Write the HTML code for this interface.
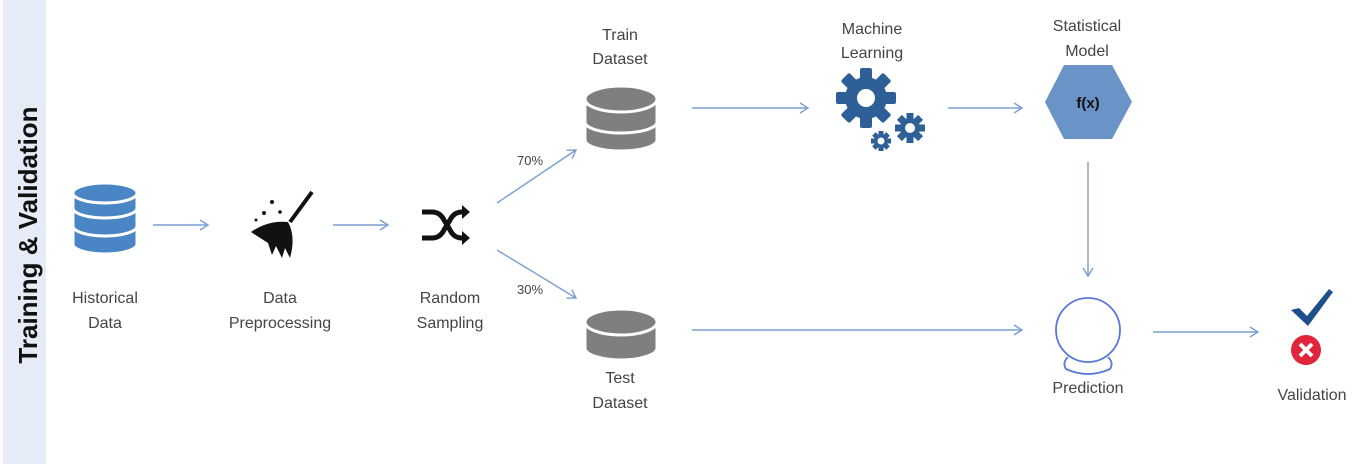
<!DOCTYPE html>
<html><head><meta charset="utf-8"><style>
html,body{margin:0;padding:0;background:#fff;}
svg{display:block;}
text{font-family:"Liberation Sans",sans-serif;fill:#444;font-size:16px;text-anchor:middle;}
</style></head><body>
<svg width="1372" height="464" viewBox="0 0 1372 464" xmlns="http://www.w3.org/2000/svg">
<defs>
<marker id="ah" markerWidth="12" markerHeight="12" refX="10" refY="6" orient="auto" markerUnits="userSpaceOnUse">
<path d="M2,1 L10,6 L2,11" fill="none" stroke="#7a9fd0" stroke-width="1.4"/>
</marker>
</defs>
<rect x="3" y="0" width="43" height="464" fill="#e6ecf7"/>
<text transform="translate(37,235) rotate(-90)" style="font-size:26px;font-weight:bold;fill:#111;">Training &amp; Validation</text>

<g fill="#4a86c5" stroke="#fff" stroke-width="3">
<path d="M73,228 v16 a32,10 0 0 0 64,0 v-16 z"/>
<path d="M73,210 v16 a32,10 0 0 0 64,0 v-16 z"/>
<path d="M73,194 v14 a32,10 0 0 0 64,0 v-14 z"/>
<ellipse cx="105" cy="193" rx="32" ry="10"/>
</g>
<text x="105" y="303">Historical</text><text x="105" y="328">Data</text>

<g stroke="#7a9fd0" stroke-width="1.4" fill="none" marker-end="url(#ah)">
<line x1="153" y1="225" x2="208" y2="225"/>
<line x1="333" y1="225" x2="388" y2="225"/>
<line x1="497" y1="203" x2="576" y2="150"/>
<line x1="497" y1="250" x2="576" y2="298"/>
<line x1="692" y1="108" x2="808" y2="108"/>
<line x1="948" y1="108" x2="1022" y2="108"/>
<line x1="1088" y1="162" x2="1088" y2="276"/>
<line x1="692" y1="330" x2="1022" y2="330"/>
<line x1="1153" y1="332" x2="1258" y2="332"/>
</g>

<g fill="#111">
<line x1="290" y1="222" x2="312" y2="192" stroke="#111" stroke-width="4"/>
<path d="M251,232 Q268,220 288,222 Q296,236 290,258 L285,248 L282,258 L276,246 L272,255 L268,243 Z"/>
<circle cx="272" cy="202" r="2"/><circle cx="264" cy="213" r="2"/><circle cx="280" cy="212" r="1.8"/><circle cx="256" cy="220" r="1.5"/>
</g>
<text x="280" y="303">Data</text><text x="280" y="328">Preprocessing</text>

<g fill="none" stroke="#111" stroke-width="5">
<path d="M422,212 h10 q8,0 12,8 l6,10 q4,8 12,8 h4"/>
<path d="M422,238 h10 q8,0 12,-8 l6,-10 q4,-8 12,-8 h4"/>
</g>
<path d="M462,205 l8,7 l-8,7z M462,231 l8,7 l-8,7z" fill="#111"/>
<text x="450" y="303">Random</text><text x="450" y="328">Sampling</text>
<text x="530" y="165" style="font-size:13px">70%</text>
<text x="530" y="294" style="font-size:13px">30%</text>

<g fill="#7f7f7f" stroke="#fff" stroke-width="3">
<path d="M585,124 v16 a36,11 0 0 0 72,0 v-16 z"/>
<path d="M585,102 v20 a36,11 0 0 0 72,0 v-20 z"/>
<ellipse cx="621" cy="99" rx="36" ry="13"/>
</g>
<text x="620" y="40">Train</text><text x="620" y="64">Dataset</text>

<g fill="#2e5f96">
<g transform="translate(866,98)">
<circle r="21"/>
<g><rect x="-6" y="-30" width="12" height="14" rx="2"/><rect x="-6" y="16" width="12" height="14" rx="2"/><rect x="-30" y="-6" width="14" height="12" rx="2"/><rect x="16" y="-6" width="14" height="12" rx="2"/>
<g transform="rotate(45)"><rect x="-6" y="-30" width="12" height="14" rx="2"/><rect x="-6" y="16" width="12" height="14" rx="2"/><rect x="-30" y="-6" width="14" height="12" rx="2"/><rect x="16" y="-6" width="14" height="12" rx="2"/></g></g>
<circle r="9" fill="#fff"/>
</g>
<g transform="translate(910,128)">
<circle r="10"/>
<rect x="-3.5" y="-15" width="7" height="30"/><rect x="-15" y="-3.5" width="30" height="7"/>
<g transform="rotate(45)"><rect x="-3.5" y="-15" width="7" height="30"/><rect x="-15" y="-3.5" width="30" height="7"/></g>
<circle r="5" fill="#fff"/>
</g>
<g transform="translate(881,141)">
<circle r="7"/>
<rect x="-2.5" y="-10" width="5" height="20"/><rect x="-10" y="-2.5" width="20" height="5"/>
<g transform="rotate(45)"><rect x="-2.5" y="-10" width="5" height="20"/><rect x="-10" y="-2.5" width="20" height="5"/></g>
<circle r="3.5" fill="#fff"/>
</g>
</g>
<text x="872" y="34">Machine</text><text x="872" y="58">Learning</text>

<polygon points="1064,65 1112,65 1132,102 1112,139 1064,139 1045,102" fill="#6a93c8"/>
<text x="1088" y="108" style="font-weight:bold;fill:#111;font-size:15px">f(x)</text>
<text x="1087" y="31">Statistical</text><text x="1087" y="56">Model</text>

<g fill="#7f7f7f" stroke="#fff" stroke-width="3">
<path d="M585,326 v22 a36,12 0 0 0 72,0 v-22 z"/>
<ellipse cx="621" cy="322" rx="36" ry="13"/>
</g>
<text x="620" y="383">Test</text><text x="620" y="408">Dataset</text>

<g fill="none" stroke="#5b78d6" stroke-width="1.8">
<circle cx="1088" cy="330" r="32"/>
<path d="M1068,357 Q1062,363 1066,369 Q1088,379 1110,369 Q1114,363 1108,357"/>
</g>
<text x="1088" y="393">Prediction</text>

<path d="M1291,310 l8,-2 l8,8 l22,-27 l4,3 l-25,34 z" fill="#1f4e8c"/>
<circle cx="1306" cy="350" r="15" fill="#e0253c"/>
<path d="M1300,344 l12,12 M1312,344 l-12,12" stroke="#fff" stroke-width="4"/>
<text x="1312" y="400">Validation</text>
</svg>
</body></html>
